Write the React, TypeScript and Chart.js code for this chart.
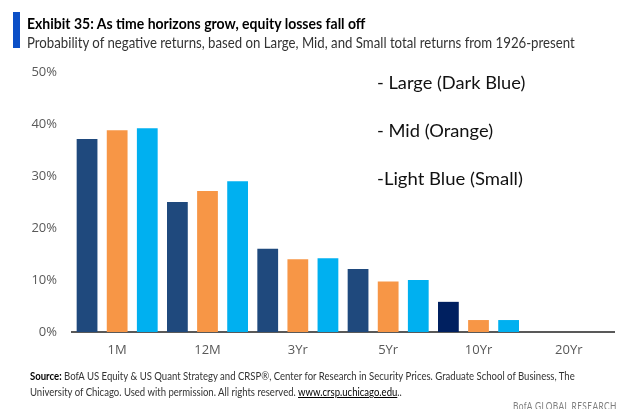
import React, { useEffect, useLayoutEffect, useRef } from "react";
import { Chart, registerables } from "chart.js";

Chart.register(...registerables);

const categories = ["1M", "12M", "3Yr", "5Yr", "10Yr", "20Yr"];
const largeValues = [37.1, 25.0, 16.0, 12.1, 5.8, 0];
const midValues = [38.8, 27.1, 14.0, 9.7, 2.3, 0];
const smallValues = [39.2, 29.0, 14.2, 10.0, 2.3, 0];
const largeColors = ["#1F497D", "#1F497D", "#1F497D", "#1F497D", "#002060", "#1F497D"];
const midColor = "#F79646";
const smallColor = "#00B0F0";
const yMax = 50;
const yStep = 10;

function FitText(props: any) {
  const ref = useRef<HTMLDivElement>(null);
  useLayoutEffect(() => {
    const el = ref.current;
    if (!el) return;
    el.style.transform = "none";
    const w = el.scrollWidth;
    if (w > 0) el.style.transform = `scaleX(${props.width / w})`;
  });
  const lh = props.lineHeight || 20;
  return (
    <div
      ref={ref}
      style={{
        position: "absolute",
        left: props.left,
        top: props.cy - lh / 2,
        lineHeight: lh + "px",
        height: lh,
        whiteSpace: "nowrap",
        transformOrigin: "left center",
        fontFamily: props.font || "Lato",
        fontSize: props.size,
        fontWeight: props.weight || 400,
        color: props.color || "#000",
        letterSpacing: props.spacing || 0,
      }}
    >
      {props.children}
    </div>
  );
}

export default function App() {
  const canvasRef = useRef<HTMLCanvasElement>(null);

  useEffect(() => {
    const canvas = canvasRef.current;
    if (!canvas) return;
    const chart = new Chart(canvas, {
      type: "bar",
      data: {
        labels: categories,
        datasets: [
          { label: "Large", data: largeValues, backgroundColor: largeColors, borderWidth: 0 },
          { label: "Mid", data: midValues, backgroundColor: midColor, borderWidth: 0 },
          { label: "Small", data: smallValues, backgroundColor: smallColor, borderWidth: 0 },
        ],
      },
      options: {
        responsive: false,
        animation: false,
        devicePixelRatio: 1,
        layout: { padding: { left: 0, top: 72, right: 21, bottom: 0 } },
        datasets: { bar: { categoryPercentage: 1.0, barPercentage: 0.69 } },
        plugins: { legend: { display: false }, tooltip: { enabled: false }, title: { display: false } },
        scales: {
          x: {
            grid: { display: false, drawTicks: false },
            border: { display: true, color: "#595959", width: 2 },
            ticks: {
              color: "#595959",
              padding: 10,
              font: { family: "Open Sans", size: 13 },
              maxRotation: 0,
            },
            afterFit: (s: any) => {
              s.height = 77;
            },
          },
          y: {
            min: 0,
            max: yMax,
            grid: { display: false, drawTicks: false },
            border: { display: false },
            ticks: {
              stepSize: yStep,
              color: "#595959",
              padding: 15,
              font: { family: "Open Sans", size: 13 },
              callback: (v: any) => v + "%",
            },
            afterFit: (s: any) => {
              s.width = 72;
            },
          },
        },
      },
    });
    return () => chart.destroy();
  }, []);

  return (
    <div
      style={{
        position: "fixed",
        left: 0,
        top: 0,
        width: 635,
        height: 409,
        background: "#fff",
        overflow: "hidden",
      }}
    >
      <canvas ref={canvasRef} width={635} height={409} style={{ position: "absolute", left: 0, top: 0 }} />
      <div style={{ position: "absolute", left: 13, top: 12, width: 7, height: 36, background: "#0B4FC7" }} />
      <FitText left={27} cy={23} width={338} size={15} weight={700} color="#000">
        Exhibit 35: As time horizons grow, equity losses fall off
      </FitText>
      <FitText left={27} cy={42} width={548} size={15} color="#333">
        Probability of negative returns, based on Large, Mid, and Small total returns from 1926-present
      </FitText>
      <FitText left={377} cy={82} width={148} size={18} color="#111" font="Lato">
        - Large (Dark Blue)
      </FitText>
      <FitText left={377} cy={130} width={116} size={18} color="#111" font="Lato">
        - Mid (Orange)
      </FitText>
      <FitText left={377} cy={178} width={146} size={18} color="#111" font="Lato">
        -Light Blue (Small)
      </FitText>
      <FitText left={30} cy={376} width={545} size={11} color="#333" lineHeight={14}>
        <b style={{ color: "#000" }}>Source:</b> BofA US Equity &amp; US Quant Strategy and CRSP®, Center for Research in Security Prices. Graduate School of Business, The
      </FitText>
      <FitText left={30} cy={392} width={372} size={11} color="#333" lineHeight={14}>
        University of Chicago. Used with permission. All rights reserved.{" "}
        <span style={{ textDecoration: "underline", color: "#000" }}>www.crsp.uchicago.edu</span>..
      </FitText>
      <FitText left={513} cy={406} width={104} size={11} color="#7f7f7f" lineHeight={14} spacing={0.5}>
        BofA GLOBAL RESEARCH
      </FitText>
    </div>
  );
}
